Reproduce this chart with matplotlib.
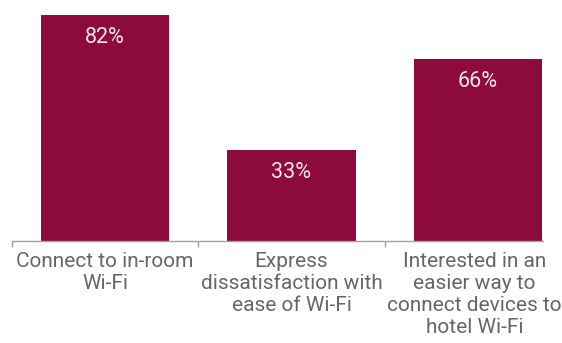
import matplotlib.pyplot as plt

plt.rcParams['font.family'] = ['Roboto', 'DejaVu Sans']

labels = ['Connect to in-room\nWi-Fi',
          'Express\ndissatisfaction with\nease of Wi-Fi',
          'Interested in an\neasier way to\nconnect devices to\nhotel Wi-Fi']
values = [82, 33, 66]

bar_color = '#8c0b3c'
text_color = '#666666'

fig = plt.figure(figsize=(5.62, 3.43), dpi=100)
ax = fig.add_axes([12 / 562, (343 - 241) / 343, 531 / 562, 234 / 343])

x = range(len(values))
bars = ax.bar(x, values, width=0.688, color=bar_color)
for b, v in zip(bars, values):
    ax.annotate(f'{v}%', (b.get_x() + b.get_width() / 2, v), xytext=(0, -16),
                textcoords='offset points', ha='center', va='center',
                color='#f5e8ec', fontsize=15.5)

ax.set_xlim(-0.5, 2.35)
ax.set_ylim(0, 85)
ax.set_yticks([])
for s in ['top', 'right', 'left']:
    ax.spines[s].set_visible(False)
ax.spines['bottom'].set_color('#a0a0a0')
ax.spines['bottom'].set_linewidth(1)

# separators between the categories
ax.set_xticks([-0.5, 0.5, 1.5])
ax.set_xticklabels([])
ax.tick_params(axis='x', length=4, width=1, color='#a0a0a0', direction='out')

# last label nudged left so it stays inside the figure
nudge = [0, 0, -2.5]
for i, lab in enumerate(labels):
    ax.annotate(lab, (i, 0), xytext=(nudge[i], -8), textcoords='offset points',
                ha='center', va='top', color=text_color,
                fontsize=15, linespacing=1.2)

fig.savefig('out.png', dpi=100)
